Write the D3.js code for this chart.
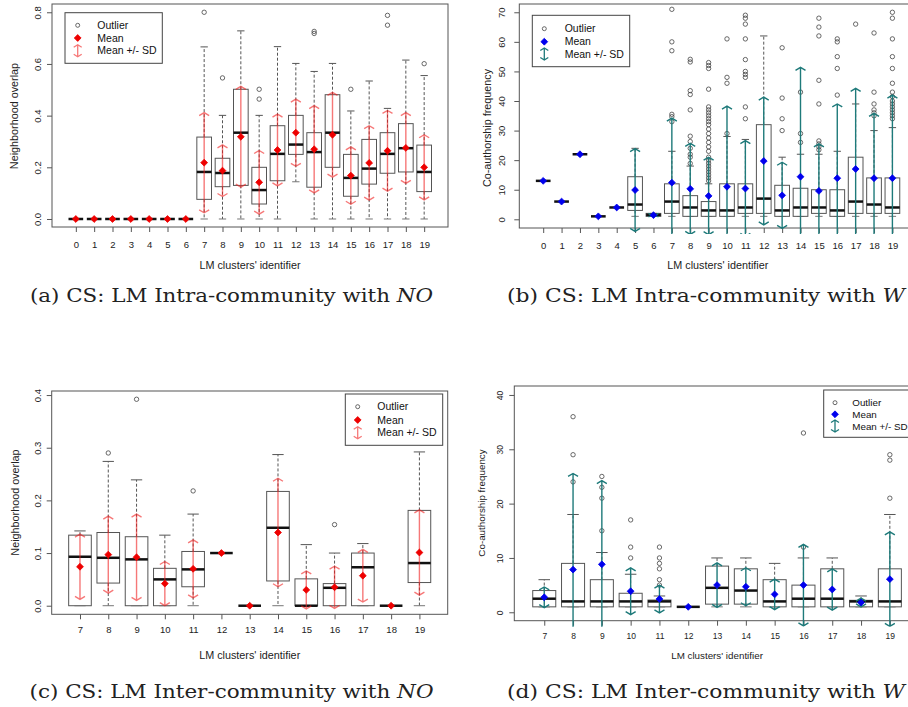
<!DOCTYPE html>
<html>
<head>
<meta charset="utf-8">
<script src="https://cdn.jsdelivr.net/npm/d3@7"></script>
<style>
body { margin: 0; background: #fff; }
svg { display: block; }
</style>
</head>
<body>
<script>
// ---- Panel (a): Intra-community, neighborhood overlap ----
var aClusters = [0, 1, 2, 3, 4, 5, 6, 7, 8, 9, 10, 11, 12, 13, 14, 15, 16, 17, 18, 19];
var aLow  = [0, 0, 0, 0, 0, 0, 0, 0, 0, 0, 0, 0, 0.144, 0, 0, 0, 0, 0, 0, 0];
var aQ1   = [0, 0, 0, 0, 0, 0, 0, 0.076, 0.125, 0.130, 0.058, 0.148, 0.250, 0.123, 0.200, 0.088, 0.135, 0.177, 0.182, 0.106];
var aMed  = [0, 0, 0, 0, 0, 0, 0, 0.182, 0.178, 0.334, 0.112, 0.252, 0.288, 0.259, 0.334, 0.159, 0.195, 0.252, 0.274, 0.182];
var aQ3   = [0, 0, 0, 0, 0, 0, 0, 0.317, 0.235, 0.502, 0.200, 0.361, 0.401, 0.334, 0.481, 0.250, 0.308, 0.334, 0.369, 0.286];
var aHigh = [0, 0, 0, 0, 0, 0, 0, 0.666, 0.401, 0.728, 0.401, 0.667, 0.602, 0.571, 0.602, 0.418, 0.534, 0.428, 0.615, 0.555];
var aMean = [0, 0, 0, 0, 0, 0, 0, 0.218, 0.187, 0.318, 0.142, 0.267, 0.334, 0.270, 0.326, 0.168, 0.217, 0.264, 0.275, 0.200];
var aSd   = [0, 0, 0, 0, 0, 0, 0, 0.194, 0.100, 0.195, 0.123, 0.139, 0.130, 0.169, 0.164, 0.111, 0.144, 0.156, 0.137, 0.126];
var aOut  = [[], [], [], [], [], [], [], [0.80], [0.546], [], [0.502, 0.464], [], [], [0.718, 0.726], [], [0.502], [], [0.788, 0.750], [], [0.601]];
var aTicks = [0, 0.2, 0.4, 0.6, 0.8];

// ---- Panel (b): Intra-community, co-authorship frequency ----
var bClusters = [0, 1, 2, 3, 4, 5, 6, 7, 8, 9, 10, 11, 12, 13, 14, 15, 16, 17, 18, 19];
var bLow  = [13, 6, 22, 1, 4, 1, 1, 1, 1, 1, 1, 1, 1, 1, 1, 1, 1, 1, 1, 1];
var bQ1   = [13, 6, 22, 1, 4, 3, 1, 2, 1, 1, 1, 2, 2, 1, 1, 2, 1, 2, 2, 2];
var bMed  = [13, 6, 22, 1, 4, 5, 1.5, 6, 4, 3, 3, 4, 7, 3, 4, 4, 3, 6, 5, 4];
var bQ3   = [13, 6, 22, 1, 4, 14.4, 2, 12, 8, 6, 12, 12, 32, 11.5, 10.5, 10, 10, 21, 14, 14];
var bHigh = [13, 6, 22, 1, 4, 24, 2, 23, 18, 12, 28, 27, 62, 21, 22, 22, 23, 39, 30, 31];
var bMean = [13, 6, 22, 1, 4, 9.9, 1.4, 12.4, 10.3, 7.9, 11, 10.4, 19.7, 8.1, 14.4, 9.6, 13.9, 17, 13.9, 13.9];
var bSd   = [0, 0, 0, 0, 0, 14, 0.4, 21.8, 15.4, 13.1, 27.3, 16.2, 21.6, 11.2, 37, 15.9, 25.1, 27.3, 21.9, 28.1];
var bOut  = [[], [], [], [], [], [], [],
  [71, 60, 57, 35.5, 34.7, 33],
  [54.1, 53.2, 43.5, 42.2, 37, 28.1, 26.3, 24, 22, 21, 18.9],
  [53, 52, 51, 44, 38, 37, 36, 35, 34, 33, 32, 30.5, 29, 27.5, 26, 24.5, 23, 21, 20, 19, 18, 17, 16, 15, 14, 13],
  [61, 48, 46, 29],
  [69, 68, 66, 61, 54, 50, 49, 48, 38, 34],
  [],
  [58, 41, 34, 30],
  [43, 29, 26],
  [68, 65, 62, 47, 39, 26.5, 25.5, 24.5, 23.5],
  [61, 60, 55, 51, 42],
  [66],
  [63, 43, 39, 37, 36, 35],
  [70, 68, 61, 55, 51, 46, 43, 41.5, 40, 39, 38, 37, 36, 35, 34]];
var bTicks = [0, 10, 20, 30, 40, 50, 60, 70];

// ---- Panel (c): Inter-community, neighborhood overlap ----
var cClusters = [7, 8, 9, 10, 11, 12, 13, 14, 15, 16, 17, 18, 19];
var cLow  = [0, 0, 0, 0, 0, 0.1, 0, 0, 0, 0, 0, 0, 0];
var cQ1   = [0, 0.043, 0, 0, 0.036, 0.1, 0, 0.047, 0, 0, 0, 0, 0.044];
var cMed  = [0.093, 0.091, 0.088, 0.050, 0.069, 0.1, 0, 0.148, 0, 0.034, 0.073, 0, 0.081];
var cQ3   = [0.134, 0.139, 0.131, 0.071, 0.103, 0.1, 0, 0.217, 0.051, 0.042, 0.100, 0, 0.181];
var cHigh = [0.142, 0.274, 0.239, 0.134, 0.174, 0.1, 0, 0.287, 0.116, 0.100, 0.118, 0, 0.292];
var cMean = [0.074, 0.097, 0.092, 0.042, 0.070, 0.1, 0, 0.139, 0.030, 0.035, 0.057, 0, 0.101];
var cSd   = [0.062, 0.073, 0.082, 0.042, 0.055, 0, 0, 0.103, 0.036, 0.040, 0.050, 0, 0.081];
var cOut  = [[], [0.290], [0.392], [], [0.218], [], [], [], [], [0.154], [], [], []];
var cTicks = [0, 0.1, 0.2, 0.3, 0.4];

// ---- Panel (d): Inter-community, co-authorship frequency ----
var dClusters = [7, 8, 9, 10, 11, 12, 13, 14, 15, 16, 17, 18, 19];
var dLow  = [1, 1, 1, 1, 1, 1, 1, 1, 1, 1, 1, 1, 1];
var dQ1   = [1, 1, 1, 1, 1, 1, 1.5, 1.5, 1, 1, 1, 1, 1];
var dMed  = [2.5, 2, 2, 2, 2, 1, 4.5, 4, 2, 2.5, 2.5, 2, 2];
var dQ3   = [4, 9, 6, 3.5, 2.25, 1, 8.5, 8, 6, 5, 8, 2.2, 8];
var dHigh = [6, 18, 11, 7, 3, 1, 10, 10, 9, 10, 10, 3, 18];
var dMean = [2.76, 7.85, 8.83, 3.87, 2.45, 1, 5, 4.7, 3.3, 5, 4.2, 1.8, 6.1];
var dSd   = [1.9, 17.7, 15.4, 4.3, 2.55, 0, 4.1, 3.5, 2.8, 7.5, 3.8, 0.8, 8.7];
var dOut  = [[], [36, 29, 24], [25, 23, 21, 15], [17, 12, 10], [12, 10, 9, 8, 6, 5], [], [], [], [], [33, 12], [], [], [29, 28, 21]];
var dTicks = [0, 10, 20, 30, 40];

var legendLabels = ["Outlier", "Mean", "Mean +/- SD"];

var svg = d3.select("body").append("svg")
    .attr("width", 908)
    .attr("height", 707)
    .attr("font-family", "'Liberation Sans', Arial, sans-serif");

// Chevron-ended vertical arrow (R arrows(code = 3))
function arrowPath(x, yTop, yBot, hw, hd) {
    return "M" + x + "," + yTop + "V" + yBot +
        "M" + (x - hw) + "," + (yTop + hd) + "L" + x + "," + yTop + "L" + (x + hw) + "," + (yTop + hd) +
        "M" + (x - hw) + "," + (yBot - hd) + "L" + x + "," + yBot + "L" + (x + hw) + "," + (yBot - hd);
}

// Mean marker, a small square diamond like R's pch 18
var meanSymbol = d3.symbol(d3.symbolDiamond2, 30);

function drawPanel(p) {
    var x = d3.scaleLinear().domain(p.xDomain).range([p.left, p.right]);
    var y = d3.scaleLinear().domain(p.yDomain).range([p.bottom, p.top]);
    var g = svg.append("g");

    var rows = p.clusters.map(function (c, i) {
        return { c: c, lo: p.low[i], q1: p.q1[i], md: p.med[i], q3: p.q3[i], hi: p.high[i],
                 mn: p.mean[i], sd: p.sd[i], out: p.out[i] };
    });

    // Boxplots
    var box = g.append("g").selectAll("g")
        .data(rows)
        .enter().append("g");

    box.filter(function (d) { return d.hi > d.q3; }).append("line")
        .attr("x1", function (d) { return x(d.c); })
        .attr("x2", function (d) { return x(d.c); })
        .attr("y1", function (d) { return y(d.q3); })
        .attr("y2", function (d) { return y(d.hi); })
        .attr("stroke", "#555").attr("stroke-dasharray", "3,2");
    box.filter(function (d) { return d.lo < d.q1; }).append("line")
        .attr("x1", function (d) { return x(d.c); })
        .attr("x2", function (d) { return x(d.c); })
        .attr("y1", function (d) { return y(d.q1); })
        .attr("y2", function (d) { return y(d.lo); })
        .attr("stroke", "#555").attr("stroke-dasharray", "3,2");
    // whisker caps
    box.filter(function (d) { return d.hi > d.md; }).append("line")
        .attr("x1", function (d) { return x(d.c - 0.2); })
        .attr("x2", function (d) { return x(d.c + 0.2); })
        .attr("y1", function (d) { return y(d.hi); })
        .attr("y2", function (d) { return y(d.hi); })
        .attr("stroke", "#555");
    box.filter(function (d) { return d.lo < d.md; }).append("line")
        .attr("x1", function (d) { return x(d.c - 0.2); })
        .attr("x2", function (d) { return x(d.c + 0.2); })
        .attr("y1", function (d) { return y(d.lo); })
        .attr("y2", function (d) { return y(d.lo); })
        .attr("stroke", "#777");
    box.filter(function (d) { return d.q3 > d.q1; }).append("rect")
        .attr("x", function (d) { return x(d.c - 0.4); })
        .attr("y", function (d) { return y(d.q3); })
        .attr("width", function (d) { return x(d.c + 0.4) - x(d.c - 0.4); })
        .attr("height", function (d) { return y(d.q1) - y(d.q3); })
        .attr("fill", "#fff").attr("stroke", "#555");
    box.append("line")
        .attr("x1", function (d) { return x(d.c - 0.4); })
        .attr("x2", function (d) { return x(d.c + 0.4); })
        .attr("y1", function (d) { return y(d.md); })
        .attr("y2", function (d) { return y(d.md); })
        .attr("stroke", "#111").attr("stroke-width", 2.5);
    box.selectAll("circle")
        .data(function (d) { return d.out.map(function (v) { return { c: d.c, v: v }; }); })
        .enter().append("circle")
        .attr("cx", function (d) { return x(d.c); })
        .attr("cy", function (d) { return y(d.v); })
        .attr("r", 2.2)
        .attr("fill", "none").attr("stroke", "#444").attr("stroke-width", 0.8);

    // Frame
    g.append("rect")
        .attr("x", p.left).attr("y", p.top)
        .attr("width", p.right - p.left).attr("height", p.bottom - p.top)
        .attr("fill", "none").attr("stroke", "#555");

    // X axis
    var xAxis = g.append("g")
        .attr("transform", "translate(0," + p.bottom + ")")
        .call(d3.axisBottom(x).tickValues(p.clusters).tickFormat(d3.format("d")).tickSize(5));
    xAxis.select(".domain").remove();
    xAxis.selectAll("line").attr("stroke", "#555");
    xAxis.selectAll("text").attr("y", p.xTickBase).attr("dy", null)
        .attr("font-size", p.tickFont).attr("font-family", null).attr("fill", "#222");

    // Y axis
    var yAxis = g.append("g")
        .attr("transform", "translate(" + p.left + ",0)")
        .call(d3.axisLeft(y).tickValues(p.yTicks).tickFormat(d3.format(p.yFormat)).tickSize(5));
    yAxis.select(".domain").remove();
    yAxis.selectAll("line").attr("stroke", "#555");
    yAxis.selectAll("text")
        .attr("x", 0).attr("dy", null).attr("y", p.yTickBase)
        .attr("transform", "rotate(-90)")
        .attr("text-anchor", "middle")
        .attr("font-size", p.tickFont).attr("font-family", null).attr("fill", "#222");

    // Axis titles
    g.append("text")
        .attr("x", (p.left + p.right) / 2).attr("y", p.xLabBase)
        .attr("text-anchor", "middle").attr("font-size", p.labFont).attr("fill", "#222")
        .text("LM clusters' identifier");
    g.append("text")
        .attr("transform", "translate(" + p.yLabX + "," + p.yLabY + ") rotate(-90)")
        .attr("text-anchor", "middle").attr("font-size", p.labFont).attr("fill", "#222")
        .text(p.yLabel);

    // Mean +/- SD arrows
    var clipId = "clip" + p.id;
    svg.append("clipPath").attr("id", clipId).append("rect")
        .attr("x", p.left - 20).attr("y", p.top)
        .attr("width", p.right - p.left + 40).attr("height", p.bottom - p.top + 6);
    g.append("g").attr("clip-path", "url(#" + clipId + ")")
        .selectAll("path")
        .data(rows.filter(function (d) { return d.sd > 0; }))
        .enter().append("path")
        .attr("d", function (d) { return arrowPath(x(d.c), y(d.mn + d.sd), y(d.mn - d.sd), 5, 3); })
        .attr("fill", "none").attr("stroke", p.sdColor).attr("stroke-width", 1.4);

    // Means
    g.append("g").selectAll("path")
        .data(rows)
        .enter().append("path")
        .attr("transform", function (d) { return "translate(" + x(d.c) + "," + y(d.mn) + ")"; })
        .attr("d", meanSymbol)
        .attr("fill", p.meanColor).attr("stroke", p.meanColor).attr("stroke-width", 0.8);

    // Legend
    var L = p.legend;
    var lg = g.append("g");
    lg.append("rect")
        .attr("x", L.x0).attr("y", L.y0)
        .attr("width", L.x1 - L.x0).attr("height", L.y1 - L.y0)
        .attr("fill", "#fff").attr("stroke", "#444");
    lg.selectAll("text")
        .data(legendLabels)
        .enter().append("text")
        .attr("x", L.textX)
        .attr("y", function (d, i) { return L.rows[i] + L.font * 0.36; })
        .attr("font-size", L.font).attr("fill", "#111")
        .text(function (d) { return d; });
    lg.append("circle")
        .attr("cx", L.symX).attr("cy", L.rows[0]).attr("r", 2)
        .attr("fill", "none").attr("stroke", "#444").attr("stroke-width", 0.8);
    lg.append("path")
        .attr("transform", "translate(" + L.symX + "," + L.rows[1] + ")")
        .attr("d", meanSymbol)
        .attr("fill", p.meanColor).attr("stroke", p.meanColor).attr("stroke-width", 0.8);
    lg.append("path")
        .attr("d", arrowPath(L.symX, L.rows[2] - 6, L.rows[2] + 6, 4, 2.5))
        .attr("fill", "none").attr("stroke", p.sdColor).attr("stroke-width", 1.3);
}

var redSd = "rgba(240,30,30,0.6)", tealSd = "#1e7a7a";

drawPanel({ id: "a", left: 52, right: 448, top: 4, bottom: 227,
    xDomain: [-1.3, 20.3], yDomain: [-0.031, 0.832], yTicks: aTicks, yFormat: ".1f",
    clusters: aClusters, low: aLow, q1: aQ1, med: aMed, q3: aQ3, high: aHigh, mean: aMean, sd: aSd, out: aOut,
    meanColor: "#ee0000", sdColor: redSd, tickFont: 9.5, labFont: 10.8,
    xTickBase: 20.5, yTickBase: -11, xLabBase: 269, yLabel: "Neighborhood overlap", yLabX: 18, yLabY: 116,
    legend: { x0: 65, x1: 162.3, y0: 12.7, y1: 63.3, rows: [25.3, 38, 50.7], symX: 77.7, textX: 97.3, font: 10.5 } });

drawPanel({ id: "b", left: 519.3, right: 916.3, top: 4, bottom: 228,
    xDomain: [-1.3, 20.3], yDomain: [-2.94, 72.8], yTicks: bTicks, yFormat: "d",
    clusters: bClusters, low: bLow, q1: bQ1, med: bMed, q3: bQ3, high: bHigh, mean: bMean, sd: bSd, out: bOut,
    meanColor: "#0000ee", sdColor: tealSd, tickFont: 9.5, labFont: 10.8,
    xTickBase: 20.5, yTickBase: -14, xLabBase: 269, yLabel: "Co-authorship frequency", yLabX: 490.5, yLabY: 128,
    legend: { x0: 532.3, x1: 629.7, y0: 15.3, y1: 66.7, rows: [28.7, 41.7, 54], symX: 544.3, textX: 564.7, font: 10.5 } });

drawPanel({ id: "c", left: 51.7, right: 447.7, top: 391, bottom: 614.3,
    xDomain: [6, 20], yDomain: [-0.0163, 0.4077], yTicks: cTicks, yFormat: ".1f",
    clusters: cClusters, low: cLow, q1: cQ1, med: cMed, q3: cQ3, high: cHigh, mean: cMean, sd: cSd, out: cOut,
    meanColor: "#ee0000", sdColor: redSd, tickFont: 9.5, labFont: 10.8,
    xTickBase: 19, yTickBase: -11, xLabBase: 659, yLabel: "Neighborhood overlap", yLabX: 18.8, yLabY: 502.5,
    legend: { x0: 345.3, x1: 442.7, y0: 394, y1: 445.3, rows: [406.7, 420, 432.7], symX: 357.7, textX: 377.3, font: 10.5 } });

drawPanel({ id: "d", left: 514.3, right: 919.8, top: 386, bottom: 620.7,
    xDomain: [5.96, 20.04], yDomain: [-1.55, 41.65], yTicks: dTicks, yFormat: "d",
    clusters: dClusters, low: dLow, q1: dQ1, med: dMed, q3: dQ3, high: dHigh, mean: dMean, sd: dSd, out: dOut,
    meanColor: "#0000ee", sdColor: tealSd, tickFont: 8.5, labFont: 9.8,
    xTickBase: 18.5, yTickBase: -11, xLabBase: 658.5, yLabel: "Co-authorship frequency", yLabX: 485, yLabY: 503,
    legend: { x0: 823.7, x1: 914, y0: 390, y1: 437.3, rows: [402.7, 414.3, 426], symX: 835, textX: 852.3, font: 9.8 } });

// Sub-figure captions
var captions = [
    { x: 231.5, y: 302, len: 403, pre: "(a) CS: LM Intra-community with ", it: "NO" },
    { x: 706, y: 302, len: 398, pre: "(b) CS: LM Intra-community with ", it: "W" },
    { x: 231.5, y: 698, len: 404, pre: "(c) CS: LM Inter-community with ", it: "NO" },
    { x: 706, y: 698, len: 398, pre: "(d) CS: LM Inter-community with ", it: "W" }
];
captions.forEach(function (c) {
    var t = svg.append("text")
        .attr("x", c.x).attr("y", c.y)
        .attr("text-anchor", "middle")
        .attr("font-family", "'DejaVu Serif', serif")
        .attr("font-size", 19)
        .attr("fill", "#222")
        .attr("textLength", c.len)
        .attr("lengthAdjust", "spacingAndGlyphs");
    t.append("tspan").text(c.pre);
    t.append("tspan").attr("font-style", "italic").text(c.it);
});
</script>
</body>
</html>
